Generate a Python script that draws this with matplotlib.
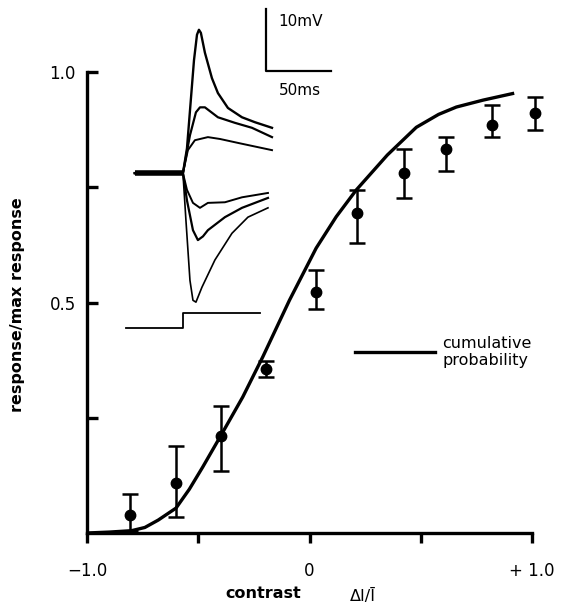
import matplotlib
matplotlib.use("Agg")
import matplotlib.pyplot as plt
from matplotlib.lines import Line2D

# ---- data: mean responses with error bars ----
contrast = [-0.807, -0.60, -0.40, -0.196, 0.03, 0.213, 0.425, 0.613, 0.82, 1.013]
response = [0.039, 0.108, 0.21, 0.356, 0.523, 0.694, 0.781, 0.833, 0.885, 0.911]
err_hi = [0.085, 0.189, 0.275, 0.373, 0.57, 0.744, 0.833, 0.859, 0.928, 0.946]
err_lo = [0.004, 0.035, 0.134, 0.338, 0.486, 0.629, 0.727, 0.785, 0.859, 0.874]

# ---- cumulative probability curve ----
curve_x = [-1.0, -0.9, -0.8, -0.74, -0.68, -0.6, -0.54, -0.48, -0.40, -0.30, -0.21,
           -0.09, 0.03, 0.12, 0.21, 0.35, 0.48, 0.58, 0.66, 0.78, 0.92]
curve_y = [0.0, 0.002, 0.005, 0.012, 0.028, 0.054, 0.095, 0.143, 0.21, 0.295, 0.382,
           0.505, 0.618, 0.686, 0.744, 0.82, 0.88, 0.908, 0.924, 0.939, 0.954]

# ---- inset traces (time ms, membrane potential mV) ----
trace_t = [
    [-37, 0, 3.1, 8.5, 10.8, 12.3, 13.8, 16.9, 22.3, 26.9, 34.6, 45.4, 55.4, 68.5],
    [-37, 0, 5.4, 10.0, 13.1, 16.9, 26.9, 40.0, 53.1, 68.5],
    [-37, 0, 3.8, 9.2, 19.2, 28.5, 43.8, 68.5],
    [-37, 0, 3.1, 7.7, 13.1, 19.2, 32.3, 45.4, 65.4],
    [-37, 0, 3.1, 7.7, 11.5, 15.4, 19.2, 32.3, 45.4, 65.4],
    [-37, 0, 2.3, 5.4, 7.7, 10.0, 14.6, 24.6, 37.7, 50.0, 65.4],
]
trace_v = [
    [0, 0, 4.0, 18.2, 22.3, 23.1, 22.6, 19.4, 15.3, 12.9, 10.5, 9.0, 8.2, 7.3],
    [0, 0, 6.1, 9.8, 10.6, 10.6, 9.0, 8.1, 7.3, 5.8],
    [0, 0, 3.7, 5.3, 5.8, 5.5, 4.8, 3.7],
    [0, 0, -2.7, -4.8, -5.6, -4.8, -4.7, -3.9, -3.2],
    [0, 0, -4.4, -9.2, -10.8, -10.2, -9.2, -7.1, -5.6, -4.0],
    [0, 0, -7.6, -17.3, -20.5, -20.8, -18.4, -14.0, -9.7, -7.1, -5.6],
]
trace_lw = [1.7, 1.6, 1.4, 1.4, 1.6, 1.2]
stim_t = [-43.8, 0, 0, 59.2]
stim_v = [-25.0, -25.0, -22.6, -22.6]
scalebar_t = [63.8, 63.8, 113.8]
scalebar_v = [26.5, 16.5, 16.5]

W, H = 564, 606
fig = plt.figure(figsize=(W / 100, H / 100), dpi=100)
fig.patch.set_facecolor("white")

FONT = "DejaVu Sans"

# main axes
ax = fig.add_axes([87 / W, (H - 533) / H, 445 / W, 461 / H])
ax.set_xlim(-1.0, 1.0)
ax.set_ylim(0.0, 1.0)
for s in ["top", "right"]:
    ax.spines[s].set_visible(False)
for s in ["left", "bottom"]:
    ax.spines[s].set_linewidth(2.4)
ax.set_xticks([-1.0, -0.5, 0.0, 0.5, 1.0])
ax.set_xticklabels(["\u22121.0", "", "0", "", "+ 1.0"])
ax.set_yticks([0.25, 0.5, 0.75, 1.0])
ax.set_yticklabels(["", "0.5", "", "1.0"])
ax.tick_params(axis="x", direction="out", length=7, width=2.4, pad=14, labelsize=12)
ax.tick_params(axis="y", direction="in", length=8, width=2.4, pad=8, labelsize=12)
for lab in ax.get_xticklabels() + ax.get_yticklabels():
    lab.set_family(FONT)

ax.plot(curve_x, curve_y, color="black", lw=2.4, solid_capstyle="butt", zorder=3)
yerr = [[r - lo for r, lo in zip(response, err_lo)], [hi - r for r, hi in zip(response, err_hi)]]
ax.errorbar(contrast, response, yerr=yerr, fmt="o", color="black", ms=7.5,
            elinewidth=1.8, capsize=6, capthick=1.8, zorder=4, clip_on=False)

ax.legend(handles=[Line2D([], [], color="black", lw=2.4)],
          labels=["cumulative\nprobability"], loc="center left",
          bbox_to_anchor=((355 - 87) / 445, (533 - 352) / 461), frameon=False,
          borderpad=0, borderaxespad=0, handlelength=5.0, handletextpad=0.45,
          prop={"family": FONT, "size": 11.5}, labelspacing=0.1)

fig.text(18 / W, 1 - 305 / H, "response/max response", rotation=90,
         ha="center", va="center", fontsize=11.5, family=FONT, fontweight="bold")
fig.text(263 / W, 1 - 593 / H, "contrast", ha="center", va="center",
         fontsize=11.5, family=FONT, fontweight="bold")
fig.text(363 / W, 1 - 596 / H, "\u0394I/\u012a", ha="center", va="center",
         fontsize=11.5, family=FONT)

# inset axes with recordings
ins = fig.add_axes([100 / W, (H - 340) / H, 250 / W, 340 / H])
ins.set_xlim(-63.8, 128.5)
ins.set_ylim(-26.9, 27.9)
ins.axis("off")
ins.patch.set_alpha(0)
for t, v, lw in zip(trace_t, trace_v, trace_lw):
    ins.plot(t, v, color="black", lw=lw, solid_joinstyle="round")
ins.plot(trace_t[0][:2], trace_v[0][:2], color="black", lw=4.0, solid_capstyle="butt")
ins.plot(stim_t, stim_v, color="black", lw=1.3)
ins.plot(scalebar_t, scalebar_v, color="black", lw=1.6)
ins.text(73, 24.5, "10mV", ha="left", va="center", fontsize=11, family=FONT)
ins.text(74, 13.3, "50ms", ha="left", va="center", fontsize=11, family=FONT)

fig.savefig("out.png", dpi=100, facecolor="white")
